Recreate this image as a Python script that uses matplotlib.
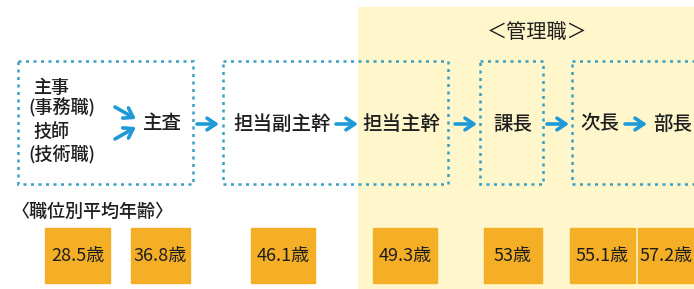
import matplotlib
matplotlib.use('Agg')
import matplotlib.pyplot as plt
from matplotlib.patches import Rectangle

plt.rcParams['font.family'] = ['Noto Sans CJK JP', 'DejaVu Sans']

# data
entry_titles = ['主事', '(事務職)', '技師', '(技術職)']
step_titles = ['主査', '担当副主幹', '担当主幹', '課長', '次長', '部長']
ages = [28.5, 36.8, 46.1, 49.3, 53, 55.1, 57.2]
age_caption = '〈職位別平均年齢〉'
manager_caption = '＜管理職＞'

# layout (pixels, origin top-left)
W, H = 694, 289
step_x = [143, 233, 362, 493, 580, 653]
age_box_x = [(45, 110), (131, 190), (251, 315), (373, 437), (484, 542), (570, 635), (638, 700)]
dotted_boxes = [(18, 193), (223, 448), (480, 543), (572, 700)]
arrows = [(197, 219), (336, 358), (455, 477), (547, 569), (625, 647)]

BLUE = '#1f9ad6'
DOT = '#3a9fc4'
ORANGE = '#f5af26'
CREAM = '#fff6cb'
INK = '#1e1e1e'

fig = plt.figure(figsize=(W / 100, H / 100), dpi=100)
ax = fig.add_axes([0, 0, 1, 1])
ax.set_xlim(0, W)
ax.set_ylim(H, 0)
ax.axis('off')

# management zone
ax.add_patch(Rectangle((358, 7), W - 358, H, color=CREAM, zorder=0))
ax.text(537, 33, manager_caption, fontsize=14.5, color=INK, ha='center', va='center')

# dotted boxes
for x0, x1 in dotted_boxes:
    ax.add_patch(Rectangle((x0, 61), x1 - x0, 123, fill=False, edgecolor=DOT,
                           linewidth=1.8, linestyle=(0, (1.2, 1.8)), zorder=2))

# entry positions
for t, y in zip(entry_titles, [88, 108, 133, 155]):
    ax.text(33 if not t.startswith('(') else 28, y, t, fontsize=13, color=INK,
            ha='left', va='center', fontweight='medium')

# merge arrows to 主査
aprops = dict(arrowstyle='->, head_length=0.45, head_width=0.3', color=BLUE,
              lw=2.6, mutation_scale=14, shrinkA=0, shrinkB=0)
ax.annotate('', xy=(136, 119), xytext=(115, 107), arrowprops=aprops)
ax.annotate('', xy=(136, 127), xytext=(115, 139), arrowprops=aprops)

# steps
for t, x in zip(step_titles, step_x):
    ax.text(x, 124, t, fontsize=14, color=INK, ha='left', va='center',
            fontweight='medium')
for x0, x1 in arrows:
    ax.annotate('', xy=(x1, 124), xytext=(x0, 124), arrowprops=aprops)

# average ages
ax.text(12, 212, age_caption, fontsize=13, color=INK, ha='left', va='center',
        fontweight='medium')
for (x0, x1), a in zip(age_box_x, ages):
    ax.add_patch(Rectangle((x0, 228), x1 - x0, 55, color=ORANGE, zorder=1))
    label = ('%g' % a) + '歳'
    if x1 <= W:
        ax.text((x0 + x1) / 2, 256, label, fontsize=13, color=INK,
                ha='center', va='center', zorder=3)
    else:
        # last box runs off the right edge
        ax.text(W - 1, 256, label, fontsize=13, color=INK,
                ha='right', va='center', zorder=3)

fig.savefig('out.png', dpi=100)
